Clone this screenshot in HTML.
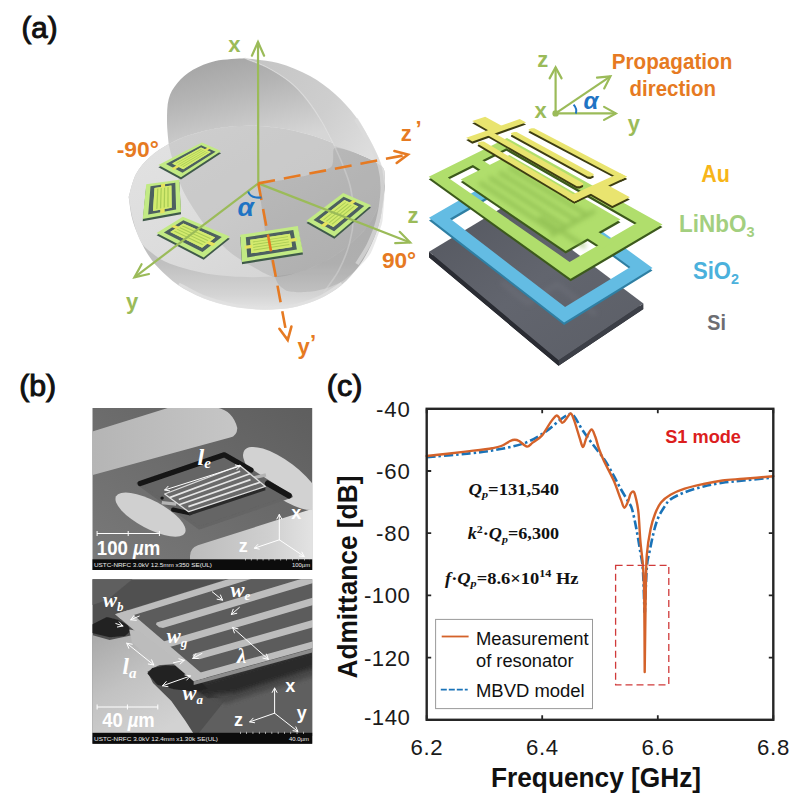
<!DOCTYPE html>
<html><head><meta charset="utf-8"><title>Figure</title>
<style>
html,body{margin:0;padding:0;background:#fff;}
body{width:803px;height:808px;overflow:hidden;font-family:"Liberation Sans",sans-serif;}
svg{display:block;font-family:"Liberation Sans",sans-serif;}
</style></head><body>
<svg width="803" height="808" viewBox="0 0 803 808">
<rect width="803" height="808" fill="#fff"/>
<g id="chart">
<path d="M426.7,457.2 C433.9,456.6 457.8,454.7 469.8,453.4 C481.9,452.1 489.6,451.1 499.0,449.3 C508.4,447.5 518.1,445.6 525.9,442.6 C533.7,439.6 540.4,435.1 546.0,431.4 C551.6,427.7 555.8,423.0 559.5,420.2 C563.2,417.4 565.9,415.5 568.0,414.5 C570.1,413.5 570.7,413.4 572.0,414.2 C573.3,414.9 574.4,416.5 576.0,419.0 C577.6,421.5 579.0,424.8 581.9,429.1 C584.8,433.4 589.2,439.6 593.1,444.8 C597.0,450.0 601.6,455.4 605.0,460.5 C608.4,465.6 611.1,470.9 613.7,475.7 C616.3,480.4 618.4,484.8 620.8,489.0 C623.2,493.2 626.0,497.7 627.9,501.0 C629.8,504.3 630.6,504.3 632.0,509.0 C633.4,513.7 635.0,521.8 636.4,529.0 C637.8,536.2 639.2,545.2 640.3,552.0 C641.4,558.8 642.2,560.0 642.9,570.0 C643.6,580.0 644.2,605.0 644.5,612.0 L644.9,612.0 C645.2,604.7 646.0,578.0 646.8,568.0 C647.5,558.0 648.1,558.8 649.4,552.3 C650.7,545.8 652.9,535.0 654.5,529.0 C656.1,523.0 657.2,519.8 659.0,516.0 C660.8,512.2 663.1,508.8 665.0,506.0 C666.9,503.2 667.2,501.7 670.5,499.4 C673.8,497.1 679.2,494.5 684.7,492.3 C690.2,490.1 697.3,488.0 703.6,486.4 C709.9,484.8 715.8,483.8 722.5,482.8 C729.2,481.8 735.3,481.4 743.8,480.5 C752.3,479.6 768.4,478.1 773.3,477.6" fill="none" stroke="#1a73b8" stroke-width="2.6" stroke-dasharray="9 3 2.5 3" stroke-linejoin="round"/>
<path d="M426.7,456.0 C430.1,455.6 440.2,454.6 447.4,453.8 C454.6,453.0 462.3,452.0 469.8,451.1 C477.3,450.2 487.0,449.1 492.2,448.2 C497.4,447.3 498.2,447.2 501.2,446.0 C504.2,444.8 507.9,442.1 510.2,441.0 C512.5,439.9 513.2,439.7 514.7,439.7 C516.2,439.7 517.1,439.9 519.1,441.0 C521.1,442.1 524.8,446.3 527.0,446.6 C529.2,446.9 530.2,444.4 532.6,442.6 C535.0,440.8 538.6,439.3 541.6,435.9 C544.6,432.5 548.1,425.8 550.5,422.4 C552.9,419.0 554.7,416.5 556.1,415.7 C557.5,414.9 558.0,416.3 559.0,417.5 C560.0,418.7 561.0,422.6 562.2,422.9 C563.4,423.1 564.8,420.6 566.2,419.0 C567.6,417.4 569.4,413.3 570.7,413.5 C572.0,413.7 572.6,416.1 574.1,420.2 C575.6,424.3 578.2,433.6 579.7,438.1 C581.2,442.6 581.9,447.1 583.0,447.1 C584.1,447.1 585.0,441.0 586.4,438.1 C587.8,435.2 590.0,429.7 591.5,429.5 C593.0,429.3 594.1,433.8 595.4,437.0 C596.6,440.2 597.5,444.9 599.0,449.0 C600.5,453.1 601.8,456.2 604.2,461.5 C606.7,466.8 610.9,474.2 613.7,480.5 C616.5,486.8 619.0,494.9 620.8,499.4 C622.6,503.9 623.1,507.3 624.3,507.7 C625.5,508.1 626.8,504.2 627.9,501.8 C629.0,499.4 629.7,495.2 630.7,493.5 C631.7,491.8 632.9,490.9 633.8,491.8 C634.7,492.7 635.3,495.5 636.1,499.0 C636.9,502.5 637.8,506.2 638.5,513.0 C639.2,519.8 639.6,531.3 640.3,540.0 C641.0,548.7 642.2,556.0 642.9,565.0 C643.5,574.0 643.9,576.2 644.2,594.0 C644.5,611.8 644.6,659.0 644.7,672.0 L644.7,672.0 C644.9,659.0 645.4,613.5 645.7,594.0 C646.1,574.5 646.0,565.8 646.8,555.0 C647.6,544.2 649.2,535.8 650.6,529.0 C652.0,522.2 653.3,518.4 655.0,514.0 C656.7,509.6 658.4,505.7 661.0,502.5 C663.6,499.3 666.5,497.0 670.5,494.7 C674.5,492.4 679.2,490.5 684.7,488.7 C690.2,486.9 697.3,485.4 703.6,484.0 C709.9,482.6 715.8,481.4 722.5,480.5 C729.2,479.6 735.3,479.5 743.8,478.8 C752.3,478.1 768.4,476.6 773.3,476.2" fill="none" stroke="#d4622a" stroke-width="2.4" stroke-linejoin="round" stroke-linecap="round"/>
<rect x="615.6" y="565.3" width="53.2" height="119.5" fill="none" stroke="#d03a3a" stroke-width="1.3" stroke-dasharray="7 4"/>
<rect x="426.7" y="408.8" width="346.6" height="311.0" fill="none" stroke="#262626" stroke-width="2.4"/>
<path d="M426.7,408.8 h4.5 M773.3,408.8 h-4.5" stroke="#262626" stroke-width="1.8"/>
<path d="M426.7,471.0 h4.5 M773.3,471.0 h-4.5" stroke="#262626" stroke-width="1.8"/>
<path d="M426.7,533.2 h4.5 M773.3,533.2 h-4.5" stroke="#262626" stroke-width="1.8"/>
<path d="M426.7,595.4 h4.5 M773.3,595.4 h-4.5" stroke="#262626" stroke-width="1.8"/>
<path d="M426.7,657.6 h4.5 M773.3,657.6 h-4.5" stroke="#262626" stroke-width="1.8"/>
<path d="M426.7,719.8 h4.5 M773.3,719.8 h-4.5" stroke="#262626" stroke-width="1.8"/>
<path d="M426.7,719.8 v-4.5 M426.7,408.8 v4.5" stroke="#262626" stroke-width="1.8"/>
<path d="M542.2,719.8 v-4.5 M542.2,408.8 v4.5" stroke="#262626" stroke-width="1.8"/>
<path d="M657.8,719.8 v-4.5 M657.8,408.8 v4.5" stroke="#262626" stroke-width="1.8"/>
<path d="M773.3,719.8 v-4.5 M773.3,408.8 v4.5" stroke="#262626" stroke-width="1.8"/>
<text x="375.9" y="416.8" font-size="22.2" fill="#1a1a1a" textLength="34.0" lengthAdjust="spacing">-40</text>
<text x="375.9" y="479.0" font-size="22.2" fill="#1a1a1a" textLength="34.0" lengthAdjust="spacing">-60</text>
<text x="375.9" y="541.2" font-size="22.2" fill="#1a1a1a" textLength="34.0" lengthAdjust="spacing">-80</text>
<text x="363.9" y="603.4" font-size="22.2" fill="#1a1a1a" textLength="46.0" lengthAdjust="spacing">-100</text>
<text x="363.9" y="665.6" font-size="22.2" fill="#1a1a1a" textLength="46.0" lengthAdjust="spacing">-120</text>
<text x="363.9" y="724.5" font-size="22.2" fill="#1a1a1a" textLength="46.0" lengthAdjust="spacing">-140</text>
<text x="410.4" y="754.8" font-size="22.2" fill="#1a1a1a" textLength="32.3" lengthAdjust="spacing">6.2</text>
<text x="525.9" y="754.8" font-size="22.2" fill="#1a1a1a" textLength="32.3" lengthAdjust="spacing">6.4</text>
<text x="641.5" y="754.8" font-size="22.2" fill="#1a1a1a" textLength="32.3" lengthAdjust="spacing">6.6</text>
<text x="757.0" y="754.8" font-size="22.2" fill="#1a1a1a" textLength="32.3" lengthAdjust="spacing">6.8</text>
<text x="491" y="787" font-size="27.2" font-weight="bold" fill="#111" textLength="210" lengthAdjust="spacingAndGlyphs">Frequency [GHz]</text>
<text transform="translate(356.7,678.6) rotate(-90)" font-size="27.2" font-weight="bold" fill="#111" textLength="203" lengthAdjust="spacingAndGlyphs">Admittance [dB]</text>
<text x="665.2" y="443.4" font-size="18.2" font-weight="bold" fill="#dc1e1e" textLength="75.8" lengthAdjust="spacingAndGlyphs">S1 mode</text>
<rect x="435.6" y="619.4" width="156.9" height="89.2" fill="#fff" stroke="#9a9a9a" stroke-width="1"/>
<path d="M441.7,636.5 H468.6" stroke="#d4622a" stroke-width="1.8"/>
<path d="M440.8,689.6 H467.7" stroke="#1a73b8" stroke-width="1.8" stroke-dasharray="6 2"/>
<text x="476" y="644.7" font-size="18.7" fill="#111" textLength="112.7" lengthAdjust="spacingAndGlyphs">Measurement</text>
<text x="476" y="667.2" font-size="18.7" fill="#111" textLength="97.5" lengthAdjust="spacingAndGlyphs">of resonator</text>
<text x="476" y="697" font-size="18.7" fill="#111" textLength="108.7" lengthAdjust="spacingAndGlyphs">MBVD model</text>
<text x="468.6" y="494.9" font-size="16" font-family="Liberation Serif, serif" font-weight="bold" fill="#111" textLength="90.5" lengthAdjust="spacingAndGlyphs"><tspan font-style="italic">Q</tspan><tspan font-style="italic" font-size="10.5" dy="3.5">p</tspan><tspan dy="-3.5">=131,540</tspan></text>
<text x="467.8" y="539.2" font-size="16" font-family="Liberation Serif, serif" font-weight="bold" fill="#111" textLength="91.3" lengthAdjust="spacingAndGlyphs"><tspan font-style="italic">k</tspan><tspan font-size="10.5" dy="-6">2</tspan><tspan dy="6">·</tspan><tspan font-style="italic">Q</tspan><tspan font-style="italic" font-size="10.5" dy="3.5">p</tspan><tspan dy="-3.5">=6,300</tspan></text>
<text x="445" y="583.6" font-size="16" font-family="Liberation Serif, serif" font-weight="bold" fill="#111" textLength="133.5" lengthAdjust="spacingAndGlyphs"><tspan font-style="italic">f</tspan>·<tspan font-style="italic">Q</tspan><tspan font-style="italic" font-size="10.5" dy="3.5">p</tspan><tspan dy="-3.5">=8.6×10</tspan><tspan font-size="10.5" dy="-6.5">14</tspan><tspan dy="6.5"> Hz</tspan></text>
<text x="326.8" y="395.6" font-size="29.5" fill="#111" stroke="#111" stroke-width="1.0" textLength="35.5" lengthAdjust="spacingAndGlyphs">(c)</text>
</g>
<defs>
<linearGradient id="gLow" x1="0" y1="0" x2="0" y2="1"><stop offset="0" stop-color="#c6c6c6"/><stop offset="0.45" stop-color="#bebebe"/><stop offset="0.75" stop-color="#c0c0c0"/><stop offset="0.92" stop-color="#d4d4d4"/><stop offset="1" stop-color="#e4e4e4"/></linearGradient>
<linearGradient id="gDisk" x1="0" y1="0" x2="1" y2="1"><stop offset="0" stop-color="#e3e3e3"/><stop offset="0.5" stop-color="#dcdcdc"/><stop offset="1" stop-color="#d0d0d0"/></linearGradient>
<linearGradient id="gConc" x1="0.1" y1="0" x2="0.55" y2="1"><stop offset="0" stop-color="#a2a2a2"/><stop offset="0.4" stop-color="#b4b4b4"/><stop offset="1" stop-color="#d6d6d6"/></linearGradient>
<linearGradient id="gConv" x1="0" y1="0" x2="1" y2="0.6"><stop offset="0" stop-color="#c4c4c4"/><stop offset="0.6" stop-color="#cecece"/><stop offset="1" stop-color="#dedede"/></linearGradient>
<filter id="b1" x="-5%" y="-5%" width="110%" height="110%"><feGaussianBlur stdDeviation="0.7"/></filter>
<filter id="b2" x="-10%" y="-10%" width="120%" height="120%"><feGaussianBlur stdDeviation="2.5"/></filter>
</defs>
<g id="sphere">
<path d="M128.7,197.0 C129.2,200.5 130.4,211.7 132.0,218.0 C133.6,224.3 135.5,229.2 138.0,235.0 C140.5,240.8 143.6,247.5 147.0,253.0 C150.4,258.5 153.4,262.7 158.6,268.0 C163.8,273.3 170.6,280.0 178.0,285.0 C185.4,290.0 194.3,294.5 203.0,298.0 C211.7,301.5 220.7,304.1 230.0,306.0 C239.3,307.9 250.7,309.0 259.0,309.5 C267.3,310.0 273.7,309.5 280.0,309.0 C286.3,308.5 290.3,308.2 297.0,306.5 C303.7,304.8 312.6,302.1 320.0,298.5 C327.4,294.9 335.1,290.4 341.6,285.0 C348.1,279.6 354.0,272.8 359.0,266.0 C364.0,259.2 368.0,251.7 371.5,244.0 C375.0,236.3 377.8,229.0 380.0,220.0 C382.2,211.0 383.8,195.0 384.6,190.0 L384.6,178.0 C384.1,176.0 386.1,170.1 381.5,166.0 C376.9,161.9 364.9,157.2 357.1,153.5 C349.4,149.8 342.6,147.0 335.0,144.0 C327.4,141.0 320.1,138.0 311.8,135.5 C303.5,133.0 294.0,130.6 285.0,129.0 C276.0,127.4 266.2,126.5 258.0,126.0 C249.8,125.5 243.3,125.6 235.5,126.2 C227.7,126.8 219.5,127.7 210.9,129.5 C202.3,131.3 191.0,134.6 184.0,137.0 C177.0,139.4 174.4,140.7 168.7,144.0 C163.0,147.3 155.4,152.0 150.0,157.0 C144.6,162.0 139.6,167.3 136.0,174.0 C132.4,180.7 129.9,193.2 128.7,197.0 Z" fill="url(#gLow)"/>
<path d="M128.7,197.0 C129.4,200.8 130.9,212.5 133.0,220.0 C135.1,227.5 137.8,236.5 141.0,242.0 C144.2,247.5 148.0,249.8 152.0,253.0 C156.0,256.2 159.5,258.9 165.0,261.5 C170.5,264.1 178.0,266.5 185.0,268.5 C192.0,270.5 199.5,272.4 207.0,273.7 C214.5,275.0 222.4,275.7 230.0,276.3 C237.6,276.9 244.5,277.2 252.5,277.2 C260.5,277.1 270.1,276.9 278.0,276.0 C285.9,275.1 292.0,274.5 300.0,272.0 C308.0,269.5 317.8,265.5 326.0,261.0 C334.2,256.5 342.0,250.8 349.0,245.0 C356.0,239.2 363.0,232.7 368.0,226.0 C373.0,219.3 376.2,211.7 379.0,205.0 C381.8,198.3 383.7,189.2 384.6,186.0 L384.6,178.0 C384.1,176.0 386.1,170.1 381.5,166.0 C376.9,161.9 364.9,157.2 357.1,153.5 C349.4,149.8 342.6,147.0 335.0,144.0 C327.4,141.0 320.1,138.0 311.8,135.5 C303.5,133.0 294.0,130.6 285.0,129.0 C276.0,127.4 266.2,126.5 258.0,126.0 C249.8,125.5 243.3,125.6 235.5,126.2 C227.7,126.8 219.5,127.7 210.9,129.5 C202.3,131.3 191.0,134.6 184.0,137.0 C177.0,139.4 174.4,140.7 168.7,144.0 C163.0,147.3 155.4,152.0 150.0,157.0 C144.6,162.0 139.6,167.3 136.0,174.0 C132.4,180.7 129.9,193.2 128.7,197.0 Z" fill="url(#gDisk)"/>
<path d="M168.7,144.0 C169.1,145.8 170.1,151.1 172.0,157.4 C173.9,163.7 178.9,182.0 183.2,191.0 C187.5,200.0 198.4,216.6 204.5,224.7 C210.6,232.8 222.5,245.8 229.2,251.6 C235.9,257.4 248.9,264.6 255.0,268.0 C261.1,271.4 269.0,276.5 275.0,277.0 C281.0,277.5 293.2,274.1 300.0,272.0 C306.8,269.9 319.5,264.6 326.0,261.0 C332.5,257.4 343.4,249.7 349.0,245.0 C354.6,240.3 364.0,231.3 368.0,226.0 C372.0,220.7 376.8,210.3 379.0,205.0 C381.2,199.7 384.3,191.2 384.6,186.0 C384.9,180.8 385.2,170.3 381.5,166.0 C377.8,161.7 363.3,156.4 357.1,153.5 C350.9,150.6 341.0,146.4 335.0,144.0 C329.0,141.6 318.5,137.5 311.8,135.5 C305.1,133.5 292.2,130.3 285.0,129.0 C277.8,127.7 264.6,126.4 258.0,126.0 C251.4,125.6 241.8,125.7 235.5,126.2 C229.2,126.7 217.8,128.1 210.9,129.5 C204.0,130.9 187.6,136.0 184.0,137.0 Z" fill="#000" opacity="0.085"/>
<path d="M258.4,183.5 C263.3,182.7 291.5,178.9 300.0,177.0 C308.5,175.1 327.0,170.4 331.0,167.0 C335.0,163.6 331.5,149.6 334.5,148.0 C337.5,146.4 351.6,151.4 357.1,153.5 C362.6,155.6 378.3,161.7 381.5,166.0 C384.7,170.3 384.4,184.3 384.6,190.0 C384.8,195.7 383.4,210.9 383.0,215.0 C382.6,219.1 382.9,220.5 381.5,224.9 C380.1,229.3 373.7,247.8 371.0,252.8 C368.3,257.8 361.2,264.7 358.0,268.0 C354.8,271.3 346.5,278.5 343.2,280.7 C339.9,282.9 333.3,285.8 330.0,287.0 C326.7,288.2 318.8,290.5 315.3,291.1 C311.8,291.7 303.3,292.3 300.0,292.3 C296.7,292.3 289.8,292.0 287.4,291.1 C284.9,290.2 280.4,286.6 279.0,285.0 C277.6,283.4 276.3,281.1 275.0,277.0 C273.7,272.9 269.5,257.8 268.0,250.0 C266.5,242.2 262.7,214.7 262.0,210.0 Z" fill="#000" opacity="0.085"/>
<path d="M168.7,144.0 C168.4,140.2 167.0,128.9 167.0,121.4 C167.0,113.9 167.0,105.3 168.7,99.0 C170.4,92.7 173.1,88.2 177.2,83.3 C181.2,78.4 186.6,73.5 193.0,69.8 C199.4,66.1 206.8,62.8 215.4,60.9 C224.0,59.0 239.7,58.7 244.5,58.2 L244.5,58.2 C248.2,59.7 258.8,63.0 266.4,67.0 C274.0,71.0 283.2,76.5 290.0,82.0 C296.8,87.5 301.9,93.3 307.2,100.0 C312.5,106.7 317.4,114.3 322.0,122.0 C326.6,129.7 332.4,142.0 334.5,146.0 L334.5,146.0 C334.6,145.7 338.8,145.8 335.0,144.0 C331.2,142.2 320.1,138.0 311.8,135.5 C303.5,133.0 294.0,130.6 285.0,129.0 C276.0,127.4 266.2,126.5 258.0,126.0 C249.8,125.5 243.3,125.6 235.5,126.2 C227.7,126.8 219.5,127.7 210.9,129.5 C202.3,131.3 191.0,134.6 184.0,137.0 C177.0,139.4 171.2,142.8 168.7,144.0 Z" fill="url(#gConc)"/>
<path d="M244.5,58.2 C250.1,59.0 267.1,60.0 278.0,63.0 C288.9,66.0 300.5,70.8 310.0,76.0 C319.5,81.2 327.3,87.2 335.0,94.0 C342.7,100.8 349.8,108.7 356.0,117.0 C362.2,125.3 367.8,136.0 372.0,144.0 C376.2,152.0 378.9,158.0 381.0,165.0 C383.1,172.0 384.0,182.5 384.6,186.0 L384.6,186.0 C384.6,184.7 385.1,181.3 384.6,178.0 C384.1,174.7 386.1,170.1 381.5,166.0 C376.9,161.9 364.9,156.8 357.1,153.5 C349.3,150.2 338.3,147.2 334.5,146.0 L334.5,146.0 C332.4,142.0 326.6,129.7 322.0,122.0 C317.4,114.3 312.5,106.7 307.2,100.0 C301.9,93.3 296.8,87.5 290.0,82.0 C283.2,76.5 274.0,71.0 266.4,67.0 C258.8,63.0 248.2,59.7 244.5,58.2 Z" fill="url(#gConv)"/>
<path d="M334.5,146.0 C336.1,149.7 341.3,160.8 344.0,168.0 C346.7,175.2 349.2,181.0 350.8,189.0 C352.4,197.0 353.7,207.1 353.5,216.2 C353.3,225.3 352.0,234.3 349.5,243.4 C347.0,252.5 342.9,262.5 338.6,270.7 C334.3,278.9 326.1,288.9 323.6,292.5" fill="none" stroke="#d9d9d9" stroke-width="1.6" opacity="0.45"/>
<path d="M244.5,58.2 C248.2,59.7 258.8,63.0 266.4,67.0 C274.0,71.0 283.2,76.5 290.0,82.0 C296.8,87.5 301.9,93.3 307.2,100.0 C312.5,106.7 317.4,114.3 322.0,122.0 C326.6,129.7 332.4,142.0 334.5,146.0" fill="none" stroke="#dedede" stroke-width="1.4" opacity="0.6"/>
<path d="M356.0,119.0 C358.5,123.5 367.0,138.0 371.0,146.0 C375.0,154.0 378.1,159.7 380.0,167.0 C381.9,174.3 382.8,181.2 382.5,190.0 C382.2,198.8 380.2,211.0 378.0,220.0 C375.8,229.0 372.5,236.7 369.0,244.0 C365.5,251.3 359.0,260.7 357.0,264.0" fill="none" stroke="#dcdcdc" stroke-width="4" opacity="0.7" filter="url(#b1)"/>
<path d="M179.0,284.0 C183.0,286.1 194.5,293.1 203.0,296.5 C211.5,299.9 220.7,302.6 230.0,304.5 C239.3,306.4 250.7,307.5 259.0,308.0 C267.3,308.5 273.7,308.0 280.0,307.5 C286.3,307.0 290.3,306.8 297.0,305.0 C303.7,303.2 312.6,300.6 320.0,297.0 C327.4,293.4 338.0,285.8 341.6,283.5" fill="none" stroke="#e2e2e2" stroke-width="3" opacity="0.8" filter="url(#b1)"/>
</g>
<g><polygon points="158.4,167.3 201.9,144.6 221.1,153.3 181.0,179.5" fill="#3f5a4a"/><polygon points="158.4,165.1 201.9,142.4 221.1,151.1 181.0,177.3" fill="#c2ea84"/><path d="M166.0,164.0 L201.2,145.2 L215.6,151.8 L182.5,172.8Z M172.2,163.5 L201.0,147.6 L210.9,152.1 L183.2,169.2Z" fill="#4d6060" fill-rule="evenodd"/><polygon points="172.2,163.5 201.0,147.6 210.9,152.1 183.2,169.2" fill="#d3ea6e"/><polygon points="171.3,168.5 177.3,165.0 179.9,166.4 173.9,169.9" fill="#e6e25e"/><polygon points="204.0,149.7 208.2,147.3 210.5,148.4 206.4,150.8" fill="#e6e25e"/><polygon points="175.9,163.3 201.1,149.1 201.8,149.4 176.6,163.6" fill="#a9cc55"/><polygon points="178.0,164.4 203.1,150.0 203.8,150.3 178.8,164.8" fill="#a9cc55"/><polygon points="180.2,165.5 205.1,150.9 205.8,151.3 181.0,165.9" fill="#a9cc55"/><polygon points="182.4,166.6 207.1,151.9 207.8,152.2 183.2,167.0" fill="#a9cc55"/></g>
<g><polygon points="146.2,186.4 142.7,221.3 181.0,214.3 179.3,181.9" fill="#3f5a4a"/><polygon points="146.2,184.2 142.7,219.1 181.0,212.1 179.3,179.7" fill="#c2ea84"/><path d="M150.5,186.3 L148.2,214.6 L176.1,209.6 L175.3,182.8Z M154.5,187.9 L153.0,211.1 L171.7,207.8 L171.4,185.5Z" fill="#4d6060" fill-rule="evenodd"/><polygon points="154.5,187.9 153.0,211.1 171.7,207.8 171.4,185.5" fill="#d3ea6e"/><polygon points="161.1,183.9 161.0,187.6 165.0,187.0 165.1,183.4" fill="#e6e25e"/><polygon points="160.3,209.1 160.1,213.6 164.7,212.8 164.7,208.3" fill="#e6e25e"/><polygon points="157.2,188.7 156.2,209.1 157.5,208.8 158.4,188.5" fill="#a9cc55"/><polygon points="160.6,188.2 159.9,208.4 161.2,208.2 161.8,188.0" fill="#a9cc55"/><polygon points="164.0,187.7 163.6,207.8 164.9,207.6 165.2,187.6" fill="#a9cc55"/><polygon points="167.4,187.2 167.3,207.1 168.6,206.9 168.6,187.1" fill="#a9cc55"/></g>
<g><polygon points="156.6,235.2 203.7,259.7 229.8,238.7 182.8,218.9" fill="#3f5a4a"/><polygon points="156.6,233.0 203.7,257.5 229.8,236.5 182.8,216.7" fill="#c2ea84"/><path d="M163.9,232.6 L202.5,252.1 L221.8,236.9 L183.3,220.3Z M170.2,231.9 L202.1,247.7 L215.2,237.6 L183.3,223.5Z" fill="#4d6060" fill-rule="evenodd"/><polygon points="170.2,231.9 202.1,247.7 215.2,237.6 183.3,223.5" fill="#d3ea6e"/><polygon points="171.1,226.7 176.1,229.0 179.3,227.0 174.2,224.7" fill="#e6e25e"/><polygon points="206.2,243.2 212.5,246.2 215.7,243.8 209.3,240.9" fill="#e6e25e"/><polygon points="174.0,231.4 202.2,245.0 203.2,244.3 175.0,230.7" fill="#a9cc55"/><polygon points="176.7,229.6 204.9,243.0 205.8,242.3 177.6,229.0" fill="#a9cc55"/><polygon points="179.3,227.9 207.5,241.0 208.4,240.3 180.3,227.3" fill="#a9cc55"/><polygon points="181.9,226.2 210.1,239.0 211.0,238.3 182.8,225.6" fill="#a9cc55"/></g>
<g><polygon points="240.3,237.0 297.8,228.3 303.0,254.4 242.0,264.2" fill="#3f5a4a"/><polygon points="240.3,234.8 297.8,226.1 303.0,252.2 242.0,262.0" fill="#c2ea84"/><path d="M245.8,237.3 L293.3,230.1 L296.9,249.5 L247.3,257.4Z M250.2,239.8 L289.9,233.7 L292.2,246.9 L251.3,253.3Z" fill="#4d6060" fill-rule="evenodd"/><polygon points="250.2,239.8 289.9,233.7 292.2,246.9 251.3,253.3" fill="#d3ea6e"/><polygon points="244.6,245.8 251.8,244.7 252.1,247.9 244.9,249.1" fill="#e6e25e"/><polygon points="289.6,238.8 296.5,237.7 297.1,240.9 290.1,242.0" fill="#e6e25e"/><polygon points="252.8,241.6 287.9,236.2 288.1,237.1 252.8,242.5" fill="#a9cc55"/><polygon points="253.0,244.2 288.4,238.7 288.5,239.7 253.1,245.2" fill="#a9cc55"/><polygon points="253.2,246.9 288.8,241.4 289.0,242.3 253.3,247.9" fill="#a9cc55"/><polygon points="253.5,249.6 289.3,244.0 289.4,245.0 253.6,250.6" fill="#a9cc55"/></g>
<g><polygon points="306.5,223.0 343.2,195.2 371.0,207.4 334.4,238.7" fill="#3f5a4a"/><polygon points="306.5,220.8 343.2,193.0 371.0,205.2 334.4,236.5" fill="#c2ea84"/><path d="M313.5,219.9 L343.6,196.8 L364.2,206.0 L334.1,231.3Z M319.5,219.5 L344.4,200.1 L358.3,206.5 L333.4,227.1Z" fill="#4d6060" fill-rule="evenodd"/><polygon points="319.5,219.5 344.4,200.1 358.3,206.5 333.4,227.1" fill="#d3ea6e"/><polygon points="320.7,225.5 325.4,221.7 328.8,223.5 324.0,227.3" fill="#e6e25e"/><polygon points="348.9,203.0 353.0,199.8 356.3,201.2 352.2,204.5" fill="#e6e25e"/><polygon points="323.2,219.5 345.2,202.2 346.1,202.6 324.1,220.0" fill="#a9cc55"/><polygon points="325.9,220.9 347.9,203.4 348.9,203.9 326.9,221.5" fill="#a9cc55"/><polygon points="328.7,222.4 350.7,204.7 351.7,205.2 329.7,223.0" fill="#a9cc55"/><polygon points="331.5,223.9 353.5,206.0 354.5,206.5 332.5,224.5" fill="#a9cc55"/></g>
<g id="axes">
<path d="M258.3,183.4 L258.0,42.0" stroke="#9bbb59" stroke-width="2.2" fill="none"/><path d="M264.1,55.7 L258.0,42.0 L251.9,55.7" stroke="#9bbb59" stroke-width="2.2" fill="none" stroke-linecap="round" stroke-linejoin="miter"/>
<path d="M258.3,183.4 L134.4,277.4" stroke="#9bbb59" stroke-width="2.2" fill="none"/><path d="M141.6,264.2 L134.4,277.4 L149.0,274.0" stroke="#9bbb59" stroke-width="2.2" fill="none" stroke-linecap="round" stroke-linejoin="miter"/>
<path d="M258.3,183.4 L410.2,242.5" stroke="#9bbb59" stroke-width="2.2" fill="none"/><path d="M395.2,243.2 L410.2,242.5 L399.7,231.8" stroke="#9bbb59" stroke-width="2.2" fill="none" stroke-linecap="round" stroke-linejoin="miter"/>
<path d="M258.3,183.4 L407.9,154.6" stroke="#e67a22" stroke-width="2.6" fill="none" stroke-dasharray="17 9"/><path d="M396.7,163.0 L407.9,154.6 L394.4,151.0" stroke="#e67a22" stroke-width="2.6" fill="none" stroke-linecap="round" stroke-linejoin="miter"/>
<path d="M258.3,183.4 L287.7,340.1" stroke="#e67a22" stroke-width="2.6" fill="none" stroke-dasharray="17 9"/><path d="M279.4,328.8 L287.7,340.1 L291.4,326.6" stroke="#e67a22" stroke-width="2.6" fill="none" stroke-linecap="round" stroke-linejoin="miter"/>
<path d="M248.2,191.5 Q250,198.5 261.5,197.5" fill="none" stroke="#1f74c4" stroke-width="2"/>
<text x="237.5" y="216" font-size="26.5" font-weight="bold" font-style="italic" fill="#1f74c4">α</text>
<text x="228.3" y="52.3" font-weight="bold" font-size="22" fill="#9bbb59">x</text>
<text x="126" y="308.7" font-weight="bold" font-size="22" fill="#9bbb59">y</text>
<text x="407.5" y="222.5" font-weight="bold" font-size="22" fill="#9bbb59">z</text>
<text x="400.8" y="140.5" font-weight="bold" font-size="22" fill="#e67a22">z</text>
<text x="415.5" y="136" font-weight="bold" font-size="22" fill="#e67a22">’</text>
<text x="297.5" y="354" font-weight="bold" font-size="22" fill="#e67a22">y</text>
<text x="310" y="350" font-weight="bold" font-size="22" fill="#e67a22">’</text>
<text x="116.7" y="156.8" font-weight="bold" font-size="22" fill="#e67a22" textLength="42.2" lengthAdjust="spacingAndGlyphs">-90°</text>
<text x="381.9" y="268.2" font-weight="bold" font-size="22" fill="#e67a22" textLength="34.3" lengthAdjust="spacingAndGlyphs">90°</text>
</g>
<text x="21.5" y="37.6" font-size="29.5" fill="#111" stroke="#111" stroke-width="1.0" textLength="36" lengthAdjust="spacingAndGlyphs">(a)</text>
<g id="stack">
<defs>
<linearGradient id="gSi" x1="0" y1="0" x2="1" y2="1"><stop offset="0" stop-color="#54575f"/><stop offset="0.5" stop-color="#62656e"/><stop offset="1" stop-color="#5b5e66"/></linearGradient>
</defs>
<polygon points="429.0,257.3 558.6,365.8 643.4,309.1 510.0,208.5" fill="#1d1f24"/>
<polygon points="429.0,251.8 558.6,360.3 558.6,365.8 429.0,257.3" fill="#2a2c33"/>
<polygon points="558.6,360.3 643.4,303.6 643.4,309.1 558.6,365.8" fill="#3c3f47"/>
<polygon points="429.0,251.8 558.6,360.3 643.4,303.6 510.0,203.0" fill="url(#gSi)"/>
<path d="M501.6,281.7 L527.8,303.0 L557.1,284.2 L595.8,314.6" fill="none" stroke="#6e717a" stroke-width="5" opacity="0.55" filter="url(#b2)"/>
<path d="M429.0,220.4 L564.1,325.0 L652.5,270.6 L515.0,170.6Z M450.0,221.2 L513.8,184.2 L630.4,269.6 L565.1,309.6Z" fill="#2f7fa3" fill-rule="evenodd"/>
<path d="M429.0,217.8 L564.1,322.4 L652.5,268.0 L515.0,168.0Z M450.0,218.6 L513.8,181.6 L630.4,267.0 L565.1,307.0Z" fill="#63bce3" fill-rule="evenodd"/>
<path d="M428.7,179.3 L570.6,281.3 L662.5,227.1 L507.0,140.6Z M447.8,180.0 L506.4,150.8 L636.7,225.6 L569.6,264.5Z" fill="#3c5a1c" fill-rule="evenodd"/><polygon points="460.7,182.0 565.7,253.6 620.5,222.2 509.4,157.5" fill="#3c5a1c"/><polygon points="469.8,165.6 482.0,173.4 491.6,168.6 479.3,160.9" fill="#3c5a1c"/><polygon points="585.0,239.3 602.9,250.8 613.8,244.4 595.8,233.2" fill="#3c5a1c"/>
<path d="M428.7,176.7 L570.6,278.7 L662.5,224.5 L507.0,138.0Z M447.8,177.4 L506.4,148.2 L636.7,223.0 L569.6,261.9Z" fill="#b0de6c" fill-rule="evenodd"/><polygon points="460.7,179.4 565.7,251.0 620.5,219.6 509.4,154.9" fill="#b0de6c"/><polygon points="469.8,163.0 482.0,170.8 491.6,166.0 479.3,158.3" fill="#b0de6c"/><polygon points="585.0,236.7 602.9,248.2 613.8,241.8 595.8,230.6" fill="#b0de6c"/>
<path d="M479.4,182.3 L555.5,232.9 M489.2,177.3 L566.3,226.9 M498.9,172.3 L576.9,220.9 M508.6,167.4 L587.3,215.1 M551.0,235.4 L595.1,210.7 M539.4,216.8 L585.6,247.1" fill="none" stroke="#7fae45" stroke-width="4" opacity="0.6" filter="url(#b2)"/>
<polygon points="466.2,140.0 472.3,143.7 526.1,124.6 519.7,121.3" fill="#3d3d12"/><polygon points="472.2,123.3 491.2,134.1 504.4,129.5 485.2,119.0" fill="#3d3d12"/><polygon points="567.0,199.3 574.3,203.6 627.0,178.9 619.7,175.1" fill="#3d3d12"/><polygon points="589.6,195.2 612.3,208.2 629.9,199.5 607.0,187.0" fill="#3d3d12"/><polygon points="528.6,132.5 528.8,131.4 531.7,130.4 534.2,130.5 627.0,178.9 621.3,181.6" fill="#3d3d12"/><polygon points="510.9,136.4 511.1,135.3 514.1,134.2 516.6,134.3 593.6,176.1 593.6,177.5 590.5,178.9 587.7,178.7" fill="#3d3d12"/><polygon points="485.6,136.1 491.8,133.9 583.2,185.5 583.0,187.0 579.8,188.5 576.8,188.4" fill="#3d3d12"/><polygon points="477.6,145.9 478.0,144.7 481.2,143.6 483.8,143.7 580.7,200.6 574.3,203.6" fill="#3d3d12"/>
<polygon points="466.2,137.8 472.3,141.5 526.1,122.4 519.7,119.1" fill="#e9e46f"/><polygon points="472.2,121.1 491.2,131.9 504.4,127.3 485.2,116.8" fill="#e9e46f"/><polygon points="567.0,197.1 574.3,201.4 627.0,176.7 619.7,172.9" fill="#e9e46f"/><polygon points="589.6,193.0 612.3,206.0 629.9,197.3 607.0,184.8" fill="#e9e46f"/><polygon points="528.6,130.3 528.8,129.2 531.7,128.2 534.2,128.3 627.0,176.7 621.3,179.4" fill="#e9e46f"/><polygon points="510.9,134.2 511.1,133.1 514.1,132.0 516.6,132.1 593.6,173.9 593.6,175.3 590.5,176.7 587.7,176.5" fill="#e9e46f"/><polygon points="485.6,133.9 491.8,131.7 583.2,183.3 583.0,184.8 579.8,186.3 576.8,186.2" fill="#e9e46f"/><polygon points="477.6,143.7 478.0,142.5 481.2,141.4 483.8,141.5 580.7,198.4 574.3,201.4" fill="#e9e46f"/>
<path d="M555.6,113.4 L555.6,67.4" stroke="#9bbb59" stroke-width="2.2" fill="none"/><path d="M561.6,78.4 L555.6,67.4 L549.6,78.4" stroke="#9bbb59" stroke-width="2.2" fill="none" stroke-linecap="round" stroke-linejoin="miter"/>
<path d="M555.6,113.4 L615.9,113.4" stroke="#9bbb59" stroke-width="2.2" fill="none"/><path d="M604.1,119.9 L615.9,113.4 L604.1,106.9" stroke="#9bbb59" stroke-width="2.2" fill="none" stroke-linecap="round" stroke-linejoin="miter"/>
<path d="M555.6,113.4 L610.4,76.4" stroke="#9bbb59" stroke-width="2.2" fill="none"/><path d="M604.2,88.4 L610.4,76.4 L597.0,77.7" stroke="#9bbb59" stroke-width="2.2" fill="none" stroke-linecap="round" stroke-linejoin="miter"/>
<circle cx="555.6" cy="113.4" r="3.2" fill="#9bbb59"/>
<path d="M573.6,104.6 Q577.5,109 575.8,113.6" fill="none" stroke="#1f74c4" stroke-width="2"/>
<text x="583.5" y="108.5" font-size="24" font-weight="bold" font-style="italic" fill="#1f74c4">α</text>
<text x="537.3" y="67.4" font-weight="bold" font-size="22" fill="#9bbb59">z</text>
<text x="534.6" y="118" font-weight="bold" font-size="22" fill="#9bbb59">x</text>
<text x="627.8" y="131.2" font-weight="bold" font-size="22" fill="#9bbb59">y</text>
<text x="611.8" y="68.8" font-size="22" font-weight="bold" fill="#e67a22" textLength="120.5" lengthAdjust="spacingAndGlyphs">Propagation</text>
<text x="629.6" y="96.2" font-size="22" font-weight="bold" fill="#e67a22" textLength="86.3" lengthAdjust="spacingAndGlyphs">direction</text>
<text x="701.3" y="182.2" font-size="23" font-weight="bold" fill="#f7b519" textLength="28.6" lengthAdjust="spacingAndGlyphs">Au</text>
<text x="679" y="232.4" font-size="24" font-weight="bold" fill="#a3cf7f" textLength="75.5" lengthAdjust="spacingAndGlyphs">LiNbO<tspan font-size="15.5" dy="4.5">3</tspan></text>
<text x="693" y="279" font-size="23" font-weight="bold" fill="#4bb1dc" textLength="46" lengthAdjust="spacingAndGlyphs">SiO<tspan font-size="15" dy="4.5">2</tspan></text>
<text x="707.3" y="329.8" font-size="22" font-weight="bold" fill="#6c6d72" textLength="18.6" lengthAdjust="spacingAndGlyphs">Si</text>
</g>
<defs>
<clipPath id="c1"><rect x="92.5" y="408" width="219.7" height="162"/></clipPath>
<clipPath id="c2"><rect x="92.5" y="579.3" width="219.7" height="164.4"/></clipPath>
<linearGradient id="s1bg" x1="0" y1="1" x2="1" y2="0"><stop offset="0" stop-color="#7a7a7a"/><stop offset="0.5" stop-color="#6c6c6c"/><stop offset="1" stop-color="#5e5e5e"/></linearGradient>
<linearGradient id="s1pad" x1="0" y1="0" x2="1" y2="0"><stop offset="0" stop-color="#b4b4b4"/><stop offset="1" stop-color="#c6c6c6"/></linearGradient>
<linearGradient id="s1pad2" x1="0" y1="0" x2="1" y2="0"><stop offset="0" stop-color="#bcbcbc"/><stop offset="0.6" stop-color="#cfcfcf"/><stop offset="1" stop-color="#e6e6e6"/></linearGradient>
<linearGradient id="s2pad" x1="0" y1="0" x2="0.6" y2="1"><stop offset="0" stop-color="#a8a8a8"/><stop offset="0.5" stop-color="#c2c2c2"/><stop offset="1" stop-color="#d2d2d2"/></linearGradient>
<linearGradient id="s2bg" x1="0" y1="0" x2="1" y2="1"><stop offset="0" stop-color="#4a4a4a"/><stop offset="0.6" stop-color="#3c3c3c"/><stop offset="1" stop-color="#6a6a6a"/></linearGradient>
<filter id="sb" x="-10%" y="-10%" width="120%" height="120%"><feGaussianBlur stdDeviation="0.6"/></filter>
<filter id="sb2" x="-20%" y="-20%" width="140%" height="140%"><feGaussianBlur stdDeviation="2.2"/></filter>
<filter id="sb05" x="-10%" y="-10%" width="120%" height="120%"><feGaussianBlur stdDeviation="0.45"/></filter>
</defs>
<g clip-path="url(#c1)">
<rect x="92" y="407" width="221" height="164" fill="url(#s1bg)"/>
<g filter="url(#sb)">
<path d="M85,433.8 L168.5,407.8 L168.5,400 L217.5,400 L217.5,407.8 Q233,411 237.3,428 Q237,436 230.1,437.6 L85,477 Z" fill="url(#s1pad)"/>
<path d="M197.9,545.2 L320,506.5 L320,575 L190,575 L190,556 Q190,548 197.9,545.2 Z" fill="url(#s1pad2)"/>
<ellipse cx="150.5" cy="514.6" rx="39" ry="14" transform="rotate(28 150.5 514.6)" fill="#d0d0d0"/>
<ellipse cx="282" cy="478.5" rx="47" ry="17.5" transform="rotate(37 282 478.5)" fill="#d2d2d2"/>
<path d="M137.9,483.5 L224.7,453.2 L291.2,496.4 L199.4,528.0Z" fill="#656565" stroke="#656565" stroke-width="3" stroke-linejoin="round"/>
<path d="M140.1,483.5 L224.3,454.8 L251.0,470.1" fill="none" stroke="#161616" stroke-width="5.2" stroke-linecap="round" stroke-linejoin="round"/>
<path d="M267.8,483.5 L288.8,495.5" fill="none" stroke="#161616" stroke-width="6" stroke-linecap="round"/>
<path d="M173.1,509.6 L189.8,513.2" fill="none" stroke="#161616" stroke-width="4.2" stroke-linecap="round"/>
<circle cx="162.1" cy="498.1" r="1.7" fill="#161616"/>
<path d="M161.8,502.6 L176.2,504.1" fill="none" stroke="#b4b4b4" stroke-width="3.2"/>
<path d="M253.9,477.8 L265.9,474.9" fill="none" stroke="#b4b4b4" stroke-width="3.2"/>
</g>
<g filter="url(#sb05)">
<polygon points="188.6,511.7 265.4,486.4 265.4,490.2 189.3,515.6" fill="#2a2a2a"/>
<polygon points="164.7,494.0 239.6,465.3 265.4,486.4 188.6,511.7" fill="#6a6a6a" stroke="#dedede" stroke-width="1.3" stroke-linejoin="round"/>
<path d="M169.5,497.6 L240.2,471.2" stroke="#e6e6e6" stroke-width="1.7" fill="none"/>
<path d="M178.8,499.5 L249.9,473.8" stroke="#e6e6e6" stroke-width="1.7" fill="none"/>
<path d="M179.1,504.7 L250.5,479.6" stroke="#e6e6e6" stroke-width="1.7" fill="none"/>
<path d="M188.4,506.6 L260.2,482.2" stroke="#e6e6e6" stroke-width="1.7" fill="none"/>
</g>
<rect x="92" y="559.3" width="221" height="12" fill="#0c0c0c"/>
<text x="94" y="567.3" font-size="5.6" fill="#eee" textLength="118" lengthAdjust="spacingAndGlyphs">USTC-NRFC 3.0kV 12.5mm x350 SE(UL)</text>
<text x="292" y="567.3" font-size="5.6" fill="#eee" textLength="18" lengthAdjust="spacingAndGlyphs">100µm</text>
<path d="M245,559.3 h65" stroke="#ddd" stroke-width="2.2" stroke-dasharray="0.7 5.2"/>
<path d="M164.7,490.0 L240.3,466.0 M236.9,469.6 L240.3,466.0 L235.4,465.0 M168.1,486.3 L164.7,490.0 L169.6,490.9" fill="none" stroke="#fff" stroke-width="1.0" stroke-linecap="round" stroke-linejoin="round"/>
<text x="197.5" y="464.5" font-family="Liberation Serif, serif" font-size="24" font-style="italic" font-weight="bold" fill="#fff">l<tspan font-size="15" dy="3.5">e</tspan></text>
<path d="M97.1,533.5 H159.4 M97.1,531 v5 M159.4,531 v5 M128.2,531 v5" stroke="#fff" stroke-width="1" fill="none"/>
<text x="96.8" y="555.3" font-size="19.5" font-weight="bold" fill="#fff" textLength="63.5" lengthAdjust="spacingAndGlyphs">100 <tspan font-style="italic">µ</tspan>m</text>
<path d="M279.3,539.8 L279.3,514.5 M281.7,518.9 L279.3,514.5 L276.9,518.9" fill="none" stroke="#fff" stroke-width="1.0" stroke-linecap="round" stroke-linejoin="round"/>
<path d="M279.3,539.8 L254.4,548.2 M257.8,544.5 L254.4,548.2 L259.3,549.1" fill="none" stroke="#fff" stroke-width="1.0" stroke-linecap="round" stroke-linejoin="round"/>
<path d="M279.3,539.8 L304.2,556.5 M299.2,556.0 L304.2,556.5 L301.9,552.1" fill="none" stroke="#fff" stroke-width="1.0" stroke-linecap="round" stroke-linejoin="round"/>
<text x="291.3" y="519" font-size="18" font-weight="bold" fill="#fff">x</text>
<text x="238.8" y="551.6" font-size="18" font-weight="bold" fill="#fff">z</text>
</g>
<g clip-path="url(#c2)">
<rect x="92" y="578" width="221" height="167" fill="#505050"/>
<g filter="url(#sb)">
<polygon points="90.0,575.0 137.6,575.0 106.8,600.2 90.0,605.8" fill="#5e5e5e"/>
<polygon points="174.1,670.3 315.0,639.4 315.0,692.7 207.7,698.3" fill="#3a3a3a"/>
<polygon points="196.5,736.1 235.7,687.1 315.0,667.5 315.0,736.1" fill="#5f5f5f"/>
<polygon points="207.7,689.9 315.0,659.1 315.0,675.9 224.5,703.9" fill="#4a4a4a" filter="url(#sb2)"/>
<path d="M90.0,634.4 L109.6,640.0 L132.0,635.2 L154.4,645.0 L174.1,659.1 L157.2,666.1 L147.4,671.7 L153.0,682.9 L171.3,701.1 L185.3,720.7 L195.1,736.1 L90.0,736.1Z" fill="url(#s2pad)"/>
<path d="M90.0,625.4 L106.8,617.0 L118.0,619.8 L127.8,624.9 L130.6,631.0 L125.0,636.1 L109.6,637.2 L90.0,632.4Z" fill="#232323"/>
<path d="M182.5,681.5 L207.7,681.5 L315.0,650.7 L315.0,667.5 L235.7,692.7 L202.1,695.5Z" fill="#2c2c2c" filter="url(#sb2)"/>
<path d="M147.4,673.6 L152.2,668.0 L165.7,665.2 L176.9,666.1 L186.7,671.7 L202.1,682.9 L207.7,688.5 L196.5,692.1 L174.1,689.3 L157.2,684.8Z" fill="#242424"/>
</g>
<g filter="url(#sb05)">
<polygon points="193.7,680.9 389.8,627.0 389.8,631.2 193.7,685.1" fill="#8c8c8c"/>
<polygon points="115.2,614.2 311.4,553.4 389.8,627.0 193.7,680.9" fill="#5b5b5b" stroke="#5b5b5b" stroke-width="1" stroke-linejoin="round"/>
<polygon points="115.2,614.2 311.4,553.4 317.0,558.7 120.9,619.0" fill="#bdbdbd"/>
<polygon points="156.6,622.5 329.4,570.4 335.8,576.3 163.0,628.0 159.2,627.3 156.0,624.6" fill="#bdbdbd"/>
<polygon points="151.5,645.0 347.6,587.5 353.9,593.3 157.7,650.4" fill="#bdbdbd"/>
<polygon points="193.2,654.0 366.0,604.7 372.2,610.5 199.4,659.3 195.6,658.6 192.5,655.9" fill="#bdbdbd"/>
<polygon points="187.9,676.0 384.1,621.6 389.8,627.0 193.7,680.9" fill="#bdbdbd"/>
<polygon points="115.2,614.2 128.0,610.3 206.5,677.4 193.7,680.9" fill="#bdbdbd"/>
</g>
<polygon points="129.2,629.6 139.0,631.0 174.1,657.7 176.9,664.1 157.2,665.2 132.0,642.2" fill="#bcbcbc" filter="url(#sb)"/>
<rect x="92" y="732.8" width="221" height="12" fill="#0c0c0c"/>
<text x="94" y="741" font-size="5.6" fill="#eee" textLength="124" lengthAdjust="spacingAndGlyphs">USTC-NRFC 3.0kV 12.4mm x1.30k SE(UL)</text>
<text x="289" y="741" font-size="5.6" fill="#eee" textLength="20" lengthAdjust="spacingAndGlyphs">40.0µm</text>
<path d="M240,732.8 h68" stroke="#ddd" stroke-width="2.2" stroke-dasharray="0.7 5.6"/>
<path d="M115.8,623.5 L123.0,626.0 M117.4,627.0 L123.0,626.0 L119.2,621.9" fill="none" stroke="#fff" stroke-width="1.0" stroke-linecap="round" stroke-linejoin="round"/>
<path d="M139.2,616.1 L130.7,619.8 M134.1,615.4 L130.7,619.8 L136.3,620.3" fill="none" stroke="#fff" stroke-width="1.0" stroke-linecap="round" stroke-linejoin="round"/>
<path d="M212.3,591.8 L222.6,600.2 M217.1,599.2 L222.6,600.2 L220.5,595.0" fill="none" stroke="#fff" stroke-width="1.0" stroke-linecap="round" stroke-linejoin="round"/>
<path d="M239.4,607.4 L231.3,614.5 M233.2,609.3 L231.3,614.5 L236.8,613.3" fill="none" stroke="#fff" stroke-width="1.0" stroke-linecap="round" stroke-linejoin="round"/>
<path d="M173.4,662.8 L184.3,660.3 M180.1,664.0 L184.3,660.3 L178.9,658.8" fill="none" stroke="#fff" stroke-width="1.0" stroke-linecap="round" stroke-linejoin="round"/>
<path d="M202.0,653.4 L192.7,658.4 M195.8,653.7 L192.7,658.4 L198.3,658.5" fill="none" stroke="#fff" stroke-width="1.0" stroke-linecap="round" stroke-linejoin="round"/>
<path d="M126.7,643.2 L153.8,665.0 M148.3,664.0 L153.8,665.0 L151.6,659.8 M132.2,644.2 L126.7,643.2 L128.8,648.3" fill="none" stroke="#fff" stroke-width="1.0" stroke-linecap="round" stroke-linejoin="round"/>
<path d="M162.5,685.8 L190.5,675.9 M186.8,680.0 L190.5,675.9 L185.0,675.0 M166.2,681.6 L162.5,685.8 L168.0,686.7" fill="none" stroke="#fff" stroke-width="1.0" stroke-linecap="round" stroke-linejoin="round"/>
<path d="M232.6,627.6 L268.4,659.4 M262.9,658.1 L268.4,659.4 L266.5,654.1 M238.0,628.8 L232.6,627.6 L234.4,632.9" fill="none" stroke="#fff" stroke-width="1.0" stroke-linecap="round" stroke-linejoin="round"/>
<text x="103.0" y="607.4" font-size="21" font-family="Liberation Serif, serif" font-style="italic" font-weight="bold" fill="#fff">w<tspan font-size="13" dy="3.5">b</tspan></text>
<text x="230.6" y="596.5" font-size="21" font-family="Liberation Serif, serif" font-style="italic" font-weight="bold" fill="#fff">w<tspan font-size="13" dy="3.5">e</tspan></text>
<text x="166.8" y="643.2" font-size="21" font-family="Liberation Serif, serif" font-style="italic" font-weight="bold" fill="#fff">w<tspan font-size="13" dy="3.5">g</tspan></text>
<text x="122.5" y="674.3" font-size="23" font-family="Liberation Serif, serif" font-style="italic" font-weight="bold" fill="#fff">l<tspan font-size="15" dy="3.5">a</tspan></text>
<text x="182.5" y="700.1" font-size="21" font-family="Liberation Serif, serif" font-style="italic" font-weight="bold" fill="#fff">w<tspan font-size="13" dy="3.5">a</tspan></text>
<text x="237" y="662.8" font-size="21" font-family="Liberation Serif, serif" font-style="italic" font-weight="bold" fill="#fff">λ</text>
<path d="M97.1,707 H157.8 M97.1,704.5 v5 M157.8,704.5 v5 M127.4,704.5 v5" stroke="#fff" stroke-width="1" fill="none"/>
<text x="102.2" y="727.2" font-size="19.5" font-weight="bold" fill="#fff" textLength="52.5" lengthAdjust="spacingAndGlyphs">40 <tspan font-style="italic">µ</tspan>m</text>
<path d="M274.6,713.2 L274.6,688.0 M277.0,692.4 L274.6,688.0 L272.2,692.4" fill="none" stroke="#fff" stroke-width="1.0" stroke-linecap="round" stroke-linejoin="round"/>
<path d="M274.6,713.2 L249.7,721.9 M253.1,718.2 L249.7,721.9 L254.6,722.7" fill="none" stroke="#fff" stroke-width="1.0" stroke-linecap="round" stroke-linejoin="round"/>
<path d="M274.6,713.2 L297.9,731.5 M293.0,730.7 L297.9,731.5 L295.9,726.9" fill="none" stroke="#fff" stroke-width="1.0" stroke-linecap="round" stroke-linejoin="round"/>
<text x="285.2" y="692" font-size="18" font-weight="bold" fill="#fff">x</text>
<text x="296.8" y="718.8" font-size="18" font-weight="bold" fill="#fff">y</text>
<text x="234" y="725.7" font-size="18" font-weight="bold" fill="#fff">z</text>
</g>
<text x="19.2" y="395.6" font-size="29.5" fill="#111" stroke="#111" stroke-width="1.0" textLength="37" lengthAdjust="spacingAndGlyphs">(b)</text>
</svg>
</body></html>
